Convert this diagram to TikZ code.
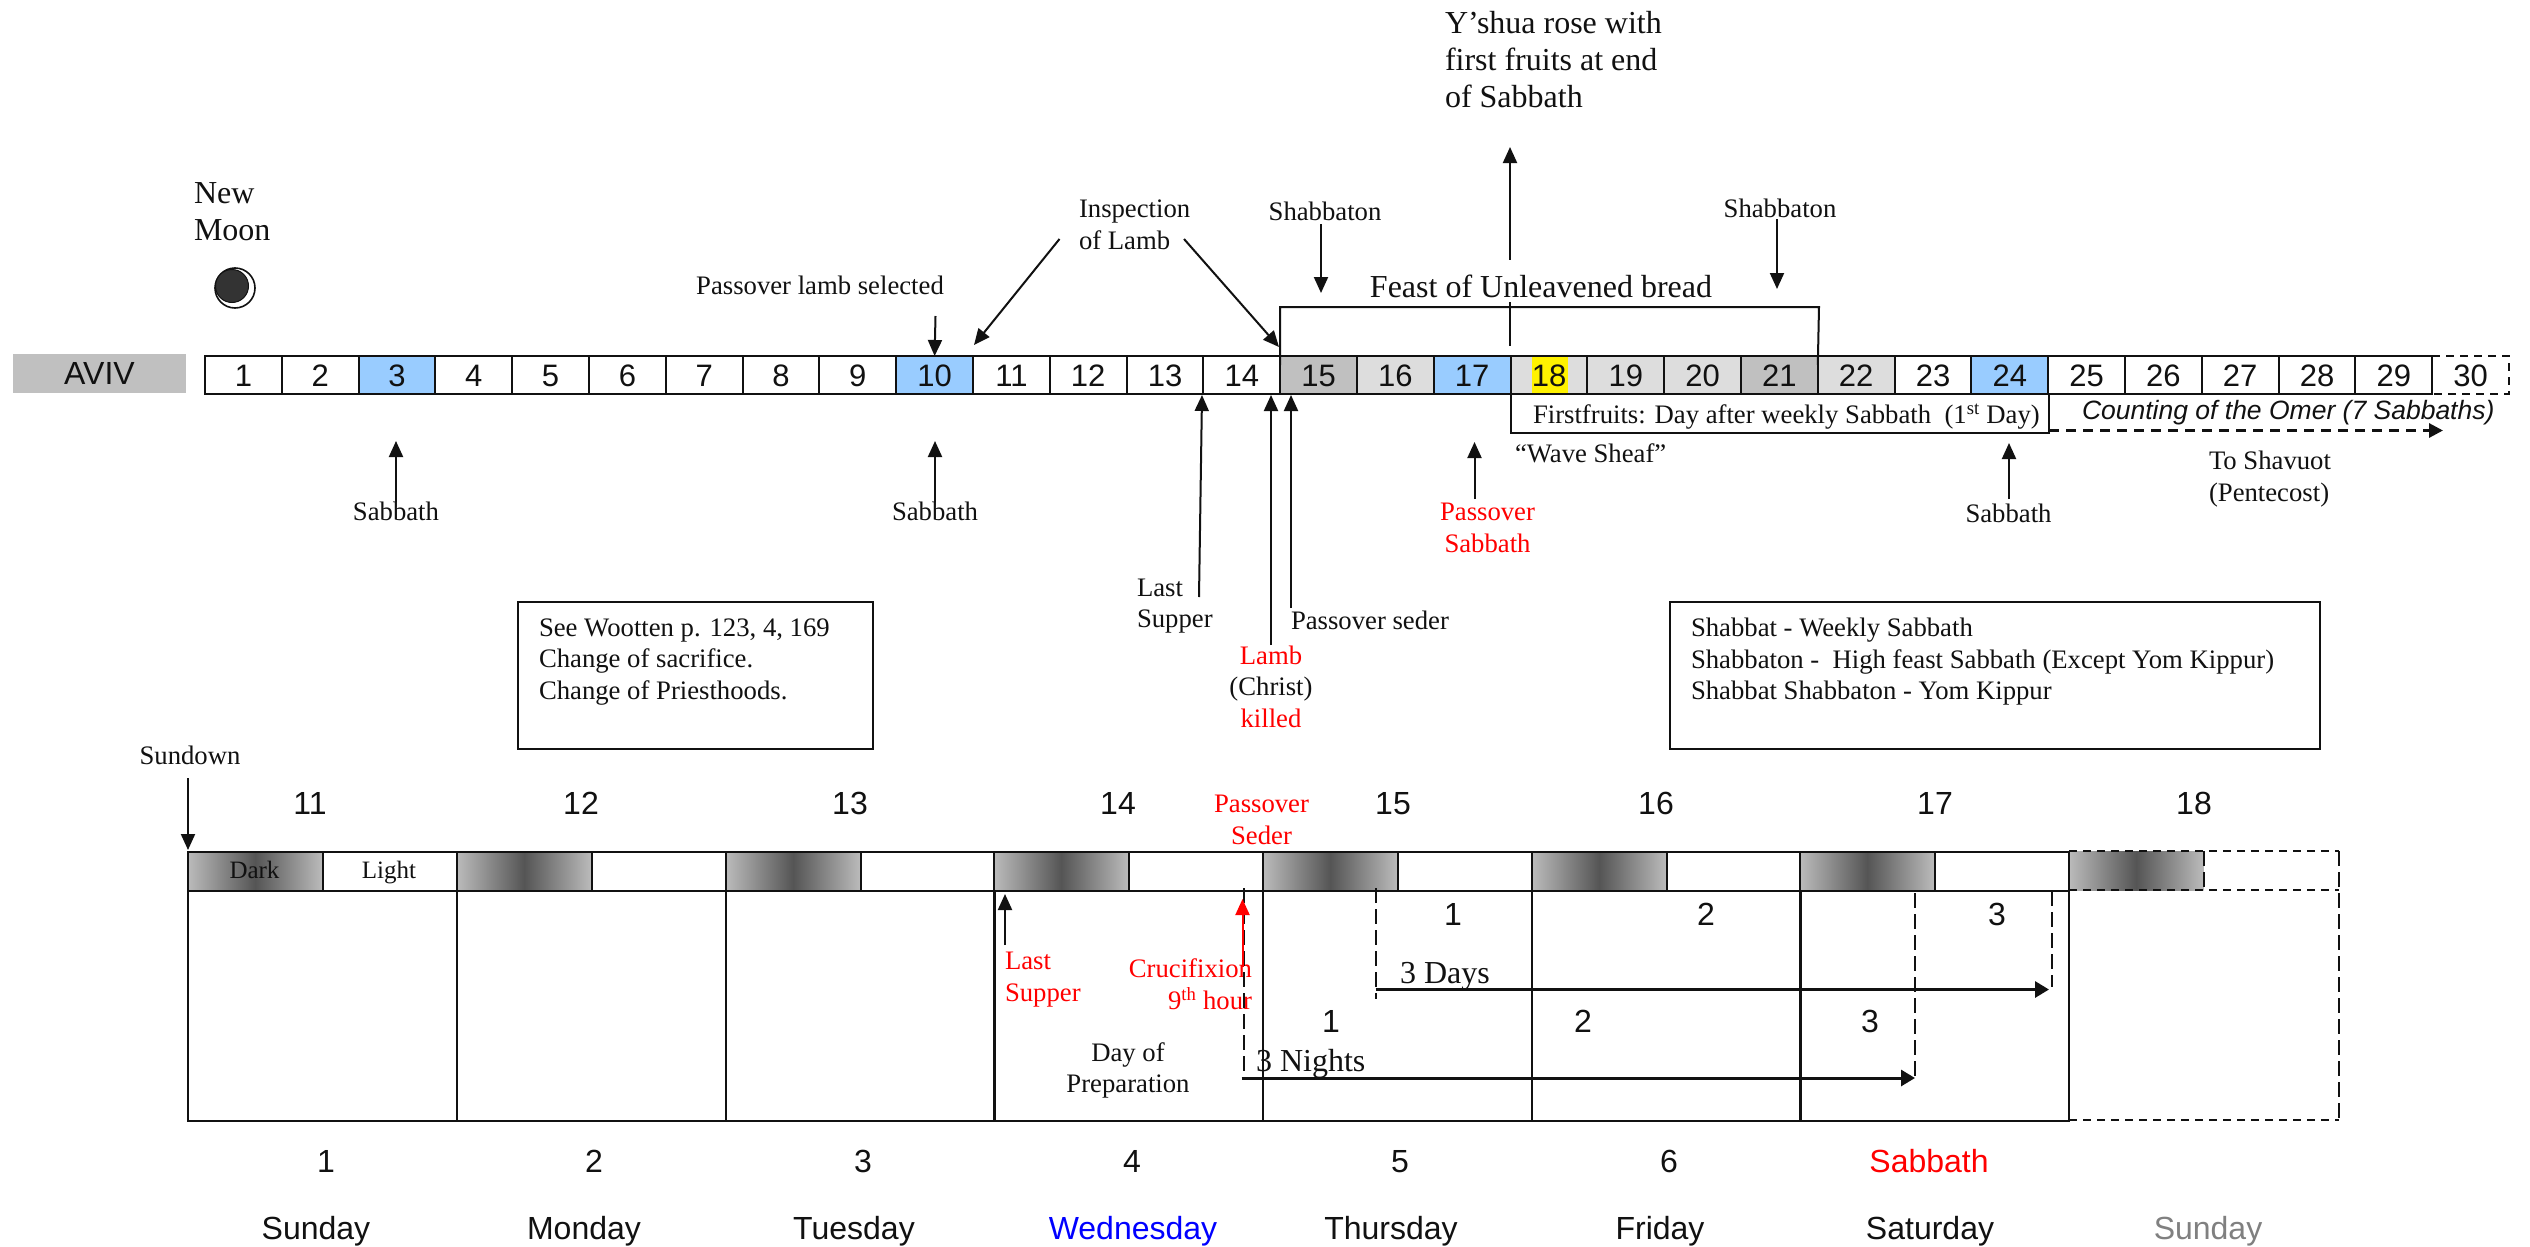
\documentclass[tikz,border=0pt]{standalone}
\usepackage{fontspec}
\setmainfont{Liberation Serif}
\setsansfont{Liberation Sans}
\usetikzlibrary{arrows.meta}
\definecolor{skyb}{HTML}{99CCFF}
\definecolor{midg}{HTML}{C0C0C0}
\definecolor{lightg}{HTML}{DDDDDD}
\definecolor{barg}{HTML}{BBBBBB}
\definecolor{bard}{HTML}{555555}
\definecolor{moond}{HTML}{333333}
\definecolor{ink}{HTML}{111111}
\newcommand{\fs}[2]{\fontsize{#1}{#2}\selectfont}
\tikzset{
  x=1pt,y=-1pt,
  every node/.style={inner sep=0pt,outer sep=0pt,text=ink},
  ser/.style={font=\rmfamily\fs{26.7}{31.5},align=center},
  serl/.style={font=\rmfamily\fs{26.7}{31.5},align=left,anchor=west},
  big/.style={font=\rmfamily\fs{32}{37},align=left,anchor=west},
  san/.style={font=\sffamily\fs{32}{36}},
  day/.style={font=\sffamily\fs{32}{36}},
  cell/.style={draw=ink,line width=2pt,minimum width=76.8pt,minimum height=38pt,anchor=west,font=\sffamily\fs{31}{36}},
  ptr/.style={draw=ink,line width=2pt,-{Triangle[length=16pt,width=14pt]},shorten >=0pt},
  redptr/.style={draw=red,line width=2pt,-{Triangle[length=16pt,width=14pt]}},
  thick arrow/.style={draw=ink,line width=3pt,-{Triangle[length=14pt,width=16pt]}},
  plain/.style={draw=ink,line width=2pt},
  longdash/.style={draw=ink,line width=2pt,dash pattern=on 15pt off 6pt},
  shortdash/.style={draw=ink,line width=2.4pt,dash pattern=on 8pt off 6pt},
  noteb/.style={draw=ink,line width=2pt,anchor=north west},
  darkhalf/.style={draw=ink,line width=1.6pt,left color=barg,right color=barg,middle color=bard,minimum width=134.5pt,minimum height=39pt,anchor=north west},
  lighthalf/.style={draw=ink,line width=2pt,fill=white,minimum width=134.5pt,minimum height=39pt,anchor=north west},
  daycol/.style={draw=ink,line width=2pt,minimum width=269pt,minimum height=230pt,anchor=north west},
}
\begin{document}
\begin{tikzpicture}
\useasboundingbox (0,0) rectangle (2530,1247);
\fill[white] (0,0) rectangle (2530,1247);

% ---- moon
\node[big] (newmoon) at (194,212) {New\\Moon};
\node[circle,draw=ink,fill=white,line width=1.6pt,minimum size=40pt] (moonout) at (235,288) {};
\node[circle,fill=moond,draw=ink,line width=1pt,minimum size=33pt] (moonin) at (232,286) {};

% ---- month strip
\node[fill=midg,minimum width=173pt,minimum height=39pt,font=\sffamily\fs{32}{36}] (aviv) at (99.5,373.5) {AVIV};
\foreach \n/\col in {1/white,2/white,3/skyb,4/white,5/white,6/white,7/white,8/white,9/white,10/skyb,11/white,12/white,13/white,14/white,15/midg,16/lightg,17/skyb,18/lightg,19/lightg,20/lightg,21/midg,22/lightg,23/white,24/skyb,25/white,26/white,27/white,28/white,29/white}{
  \node[cell,fill=\col] (c\n) at ({205+76.8*(\n-1)},375) {};
}
\fill[yellow] (1532,357) rectangle (1568,393);
\foreach \n in {1,...,29}{
  \node[font=\sffamily\fs{31}{36},text height=22pt,text depth=0pt] (n\n) at (c\n.center) {\n};
}
\node[cell,draw=none] (c30) at (2432.2,375) {};
\node[font=\sffamily\fs{31}{36},text height=22pt,text depth=0pt] (n30) at (c30.center) {30};
\draw[shortdash] (c30.north west) -- (c30.north east) -- (c30.south east) -- (c30.south west);

% ---- labels above strip
\node[ser] (lambsel) at (820,285) {Passover lamb selected};
\node[serl] (insp) at (1079,225) {Inspection\\of Lamb};
\node[ser] (shab1) at (1325,211) {Shabbaton};
\node[ser] (shab2) at (1780,208) {Shabbaton};
\node[font=\rmfamily\fs{32}{36}] (feast) at (1541,286) {Feast of Unleavened bread};
\node[big] (yshua) at (1445,60) {Y’shua rose with\\first fruits at end\\of Sabbath};

\coordinate (brL) at (c15.north west);
\coordinate (brR) at (c22.north west);
\draw[plain] ([yshift=-9pt]brL) -- (1280,307) -- (1819,307) -- ([yshift=-9pt]brR);

\coordinate (a1s) at (935.5,316);
\draw[ptr] (a1s) -- (c10.north);
\coordinate (a2s) at (1059.5,239);
\coordinate (a2e) at (974,345);
\draw[ptr] (a2s) -- (a2e);
\coordinate (a3s) at (1184,239);
\coordinate (a3e) at (1279,347);
\draw[ptr] (a3s) -- (a3e);
\coordinate (a4s) at (1321,224);
\coordinate (a4e) at (1321,293);
\draw[ptr] (a4s) -- (a4e);
\coordinate (a5s) at (1777,219);
\coordinate (a5e) at (1777,289);
\draw[ptr] (a5s) -- (a5e);
\coordinate (a6s) at (1510,259.5);
\coordinate (a6e) at (1510,147);
\draw[ptr] (a6s) -- (a6e);
\coordinate (a6b) at (1510,302);
\coordinate (a6c) at (1510,346);
\draw[draw=ink,line width=2pt] (a6b) -- (a6c);

% ---- labels below strip
\node[ser] (sab3) at (396,511) {Sabbath};
\node[ser] (sab10) at (935,511) {Sabbath};
\coordinate (s3e) at (396,441);
\coordinate (s10e) at (935,441);
\draw[ptr] (sab3.north) -- (s3e);
\draw[ptr] (sab10.north) -- (s10e);
\node[serl] (lastsup) at (1137,606) {Last\\Supper};
\coordinate (ls1) at (1199,597);
\coordinate (ls2) at (1202,395);
\draw[ptr] (ls1) -- (ls2);
\node[serl] (seder) at (1291,620) {Passover seder};
\coordinate (sd1) at (1291,608);
\coordinate (sd2) at (1291,395);
\draw[ptr] (sd1) -- (sd2);
\node[ser] (lamb) at (1271,686.5) {\textcolor{red}{Lamb}\\(Christ)\\\textcolor{red}{killed}};
\coordinate (lb2) at (1271,395);
\draw[ptr] (1271,645) -- (lb2);
\node[ser,text=red] (passsab) at (1487.5,528) {Passover\\Sabbath};
\coordinate (ps1) at (1474.5,499);
\coordinate (ps2) at (1474.5,442);
\draw[ptr] (ps1) -- (ps2);
\node[serl] (wave) at (1515,453.5) {“Wave Sheaf”};
\node[ser] (sab24) at (2008.5,513.5) {Sabbath};
\coordinate (s24a) at (2009,499);
\coordinate (s24b) at (2009,443);
\draw[ptr] (s24a) -- (s24b);
\node[draw=ink,line width=2pt,minimum width=538pt,minimum height=38.5pt,anchor=north west] (firstbox) at (1511,394) {};
\node[serl] (firsttext) at (1533,417) {Firstfruits: Day after weekly Sabbath\ \ (1\textsuperscript{st} Day)};
\node[anchor=west,font=\sffamily\itshape\fs{26.5}{30}] (omer) at (2082,412.5) {Counting of the Omer (7 Sabbaths)};
\coordinate (om1) at (2049,430.5);
\coordinate (om2) at (2443,430.5);
\draw[draw=ink,line width=3pt,dash pattern=on 10pt off 7pt,-{Triangle[length=14pt,width=14pt]}] (om1) -- (om2);
\node[serl] (shav) at (2209,479) {To Shavuot\\(Pentecost)};

% ---- note boxes
\node[noteb,minimum width=355pt,minimum height=147pt] (box1) at (518,602) {};
\node[serl] (box1t) at (539,662) {See Wootten p. 123, 4, 169\\Change of sacrifice.\\Change of Priesthoods.};
\node[noteb,minimum width=650pt,minimum height=147pt] (box2) at (1670,602) {};
\node[serl] (box2t) at (1691,662) {Shabbat - Weekly Sabbath\\Shabbaton -\ \ High feast Sabbath (Except Yom Kippur)\\Shabbat Shabbaton - Yom Kippur};

% ---- week
\node[ser] (sundown) at (190,755) {Sundown};
\coordinate (sdn1) at (188,778);
\coordinate (sdn2) at (188,850);
\draw[ptr] (sdn1) -- (sdn2);
\foreach \t/\x in {11/310,12/581,13/850,14/1118,15/1393,16/1656,17/1935,18/2194}{
  \node[san,text height=23pt,text depth=0pt] (top\t) at (\x,803) {\t};
}
\node[ser,text=red] (seder2) at (1261.5,820) {Passover\\Seder};

% day columns
\foreach \k/\x in {1/188,2/457,3/726,4/994,5/1263,6/1532,7/1800}{
  \node[daycol] (col\k) at (\x,891) {};
  \node[darkhalf] (dk\k) at (\x,852) {};
  \node[lighthalf] (lt\k) at (\x+134.5,852) {};
}
\node[daycol,draw=none] (col8) at (2069,891) {};
\node[darkhalf,draw=none] (dk8) at (2069,851) {};
\node[lighthalf,draw=none] (lt8) at (2203.5,851) {};
\draw[shortdash] (2069,851) -- (2338.5,851);
\draw[shortdash] (2069,890) -- (2338.5,890);
\draw[shortdash] (2069,1120) -- (2338.5,1120);
\draw[longdash] (2338.5,851) -- (2338.5,1120);
\draw[longdash] (2203.5,851) -- (2203.5,890);
\draw[plain] (2069,852) -- (2069,1121);

\node[font=\rmfamily\fs{25}{30}] (darkt) at (254.5,870) {Dark};
\node[font=\rmfamily\fs{25}{30}] (lightt) at (389,873) {Light};

\node[serl,text=red] (ls2t) at (1005,979.5) {Last\\Supper};
\coordinate (ls3) at (1005,945);
\coordinate (ls4) at (1005,894);
\draw[ptr] (ls3) -- (ls4);
\node[font=\rmfamily\fs{26.7}{31.5},text=red,align=right,anchor=east] (cruc) at (1252,984) {Crucifixion\\9\textsuperscript{th} hour};
\coordinate (cr1) at (1242.5,967);
\coordinate (cr2) at (1242.5,899);
\node[ser] (prep) at (1128,1070.5) {Day of\\Preparation};
\draw[longdash] (1244,888) -- (1244,1078);
\draw[redptr] (cr1) -- (cr2);

\draw[longdash] (1375.5,888) -- (1375.5,999);
\draw[longdash] (1914.5,893) -- (1914.5,1081);
\draw[longdash] (2052,891) -- (2052,987);

\coordinate (tn1) at (1241.5,1078);
\coordinate (tn2) at (1915,1078);
\draw[thick arrow] (tn1) -- (tn2);
\coordinate (td1) at (1375.5,989.5);
\coordinate (td2) at (2049,989.5);
\draw[thick arrow] (td1) -- (td2);
\node[big] (nights) at (1256,1063.5) {3 Nights};
\node[big] (days) at (1400,976) {3 Days};

\foreach \nm/\t/\x/\y in {d1/1/1453/914,d2/2/1706/914,d3/3/1997/914,e1/1/1331/1021,e2/2/1583/1021,e3/3/1870/1021,f1/1/326/1161,f2/2/594/1161,f3/3/863/1161,f4/4/1132/1161,f5/5/1400/1161,f6/6/1669/1161}{
  \node[san,text height=23pt,text depth=0pt] (\nm) at (\x,\y) {\t};
}
\node[day,text=red] (f7) at (1929,1161) {Sabbath};

\foreach \nm/\t/\x in {w1/Sunday/316,w2/Monday/584,w3/Tuesday/854,w5/Thursday/1391,w6/Friday/1660,w7/Saturday/1930}{
  \node[day,text height=23pt,text depth=7pt] (\nm) at (\x,1231.5) {\t};
}
\node[day,text=blue,text height=23pt,text depth=7pt] (w4) at (1133,1231.5) {Wednesday};
\node[day,text=gray,text height=23pt,text depth=7pt] (w8) at (2208,1231.5) {Sunday};
\end{tikzpicture}
\end{document}
